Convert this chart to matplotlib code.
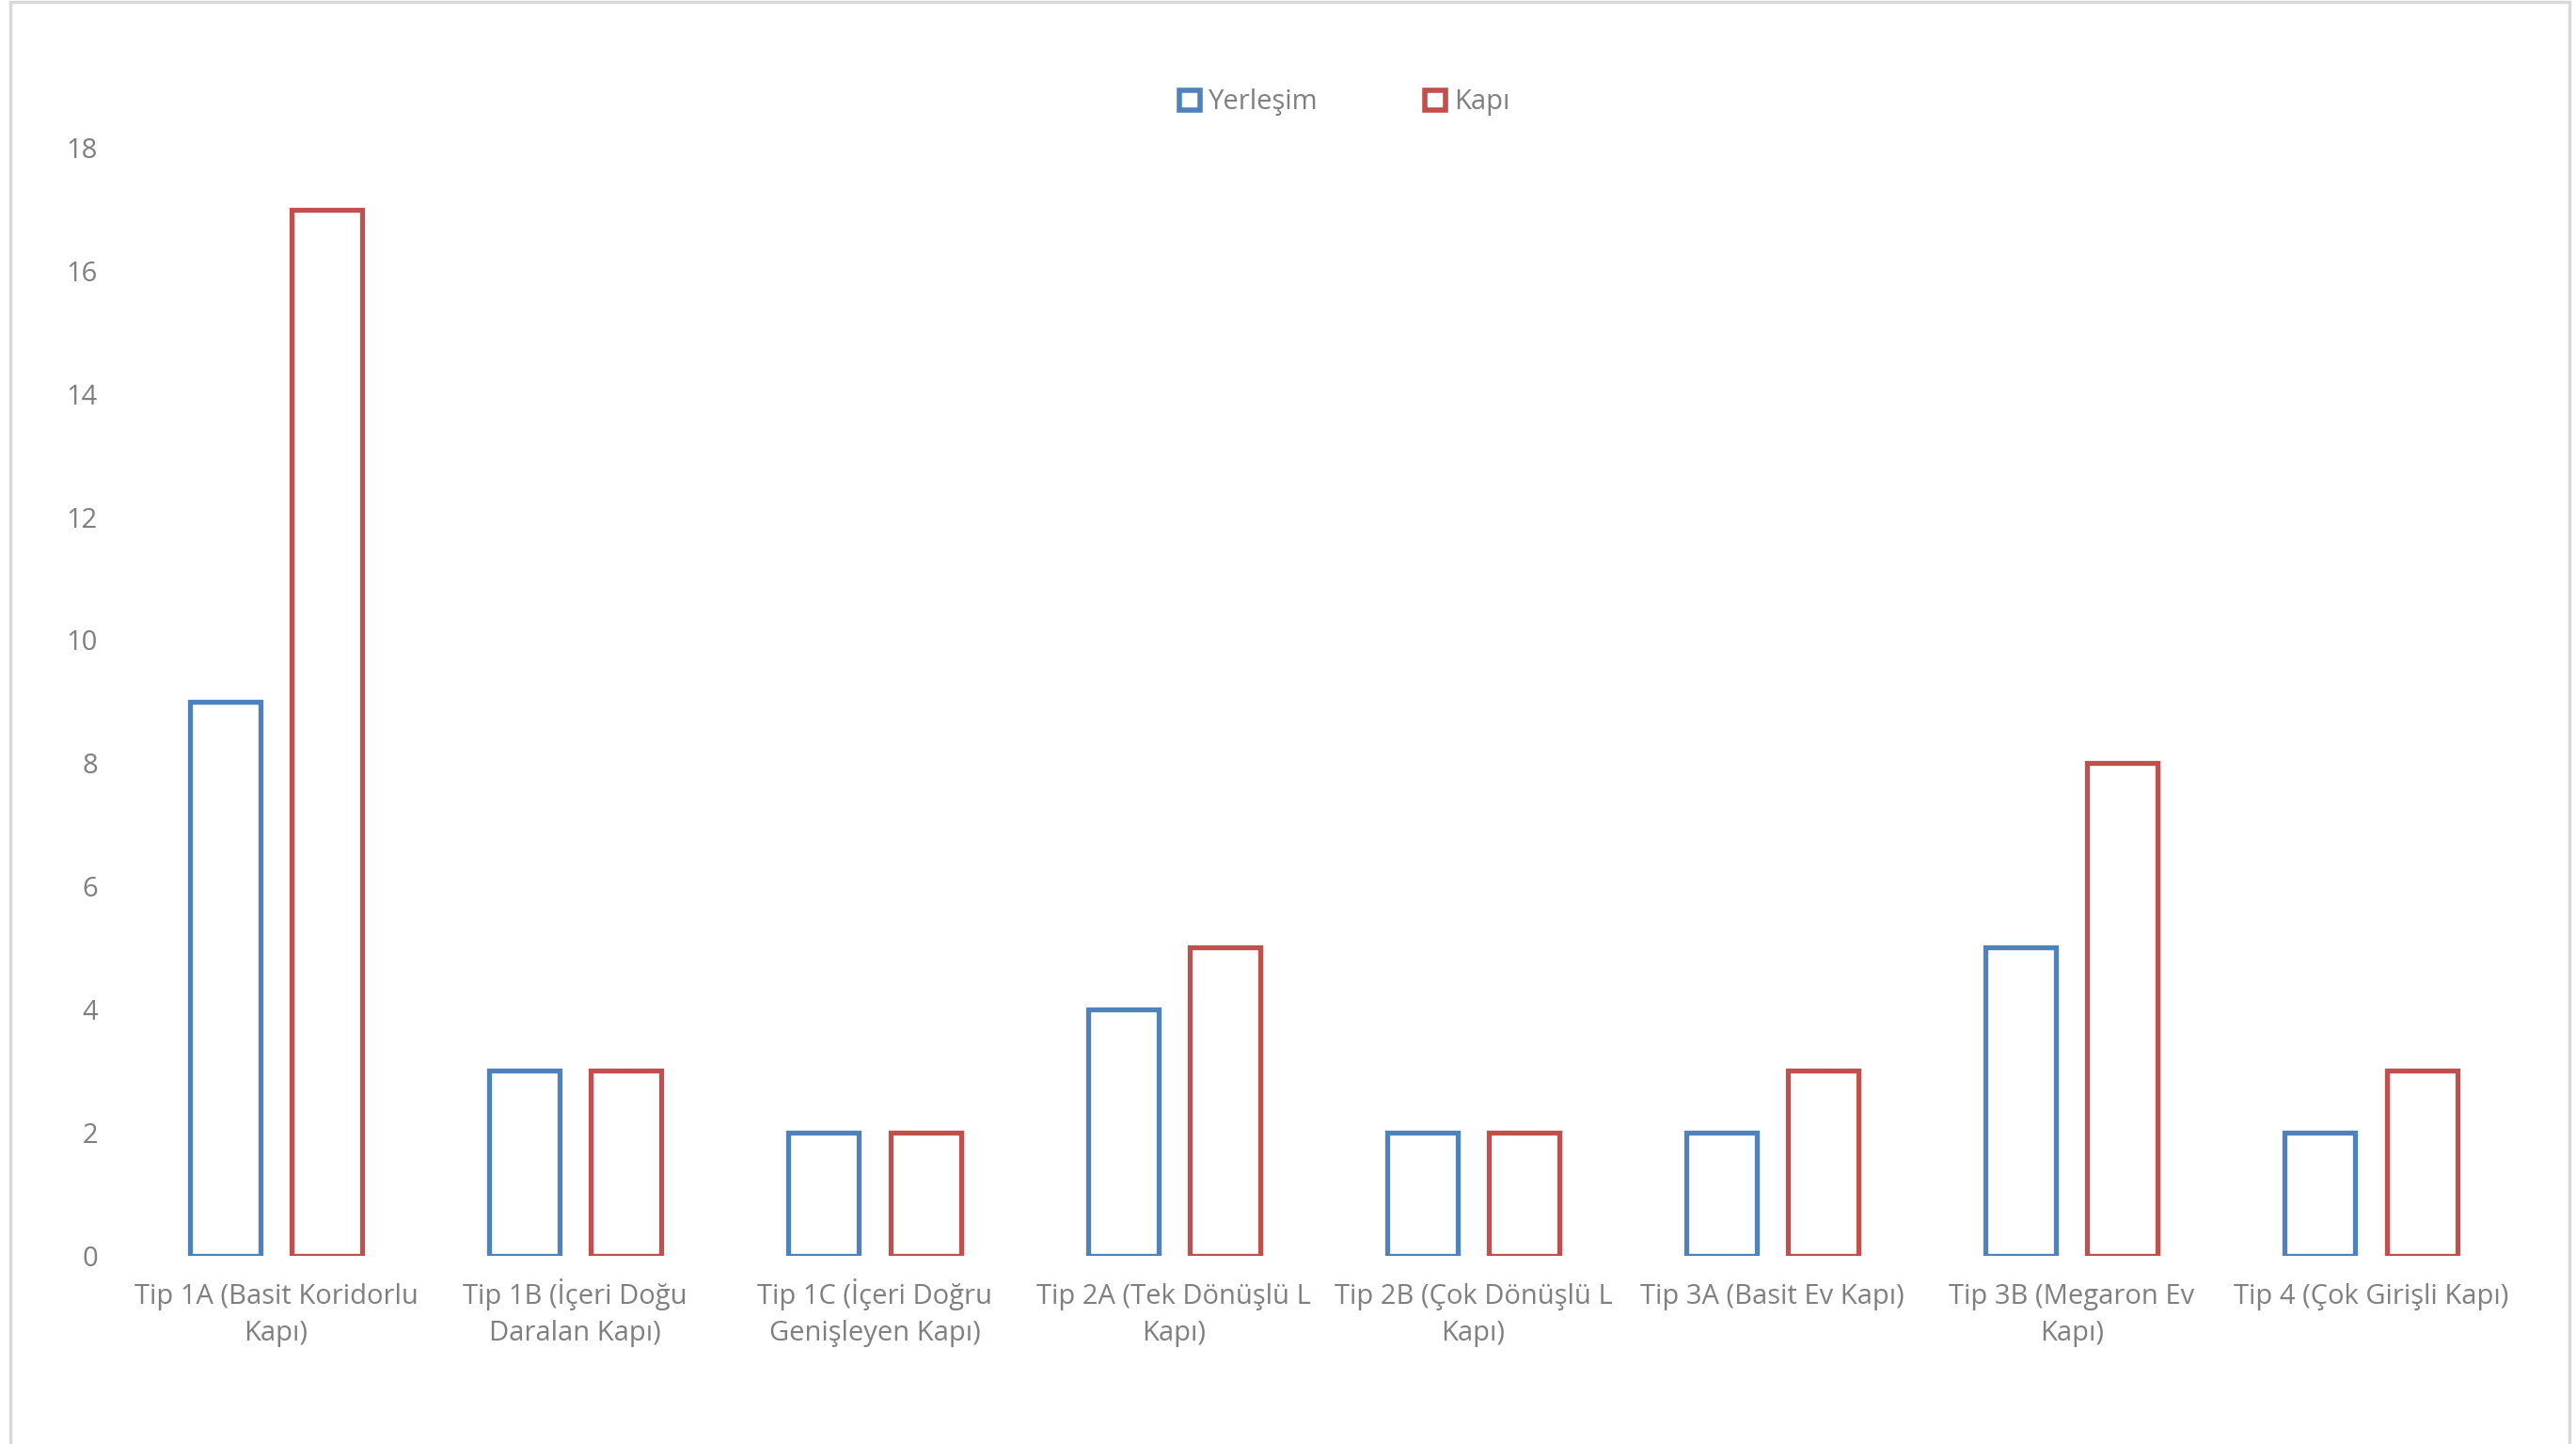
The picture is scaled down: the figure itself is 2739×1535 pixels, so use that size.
import matplotlib.pyplot as plt
from matplotlib.patches import Patch, Rectangle
import numpy as np

# chart data
categories = ["Tip 1A (Basit Koridorlu\nKapı)", "Tip 1B (İçeri Doğu\nDaralan Kapı)",
              "Tip 1C (İçeri Doğru\nGenişleyen Kapı)", "Tip 2A (Tek Dönüşlü L\nKapı)",
              "Tip 2B (Çok Dönüşlü L\nKapı)", "Tip 3A (Basit Ev Kapı)",
              "Tip 3B (Megaron Ev\nKapı)", "Tip 4 (Çok Girişli Kapı)"]
yerlesim = [9, 3, 2, 4, 2, 2, 5, 2]
kapi = [17, 3, 2, 5, 2, 3, 8, 3]
yticks = [0, 2, 4, 6, 8, 10, 12, 14, 16, 18]

blue = "#4F81BD"
red = "#C0504D"
gray = "#7F7F7F"

plt.rcParams['font.family'] = ['Open Sans', 'DejaVu Sans']

fig = plt.figure(figsize=(27.39, 15.35), dpi=100)
ax = fig.add_axes([0.0491, 0.1306, 0.9294, 0.767])

x = np.arange(len(categories))
w = 0.236
off = 0.170
ax.bar(x - off, yerlesim, width=w, fill=False, edgecolor=blue, linewidth=3.8)
ax.bar(x + off, kapi, width=w, fill=False, edgecolor=red, linewidth=3.8)

ax.set_xlim(-0.5, len(categories) - 0.5)
ax.set_ylim(0, 18)
ax.set_yticks(yticks)
ax.set_xticks(x)
ax.set_xticklabels([])
ax.tick_params(axis='both', length=0, labelsize=21, labelcolor=gray)
ax.tick_params(axis='y', pad=22)
for s in ax.spines.values():
    s.set_visible(False)

# category labels drawn line by line on a common baseline
for xi, lab in zip(x, categories):
    for i, line in enumerate(lab.split('\n')):
        ax.annotate(line, xy=(xi, 0), xycoords=('data', 'axes fraction'),
                    xytext=(0, -37 - i * 28), textcoords='offset points',
                    ha='center', va='baseline', fontsize=21, color=gray)

handles = [Patch(facecolor='white', edgecolor=blue, linewidth=4, label='Yerleşim'),
           Patch(facecolor='white', edgecolor=red, linewidth=4, label='Kapı')]
leg = fig.legend(handles=handles, loc='center', bbox_to_anchor=(0.522, 0.929), ncol=2,
                 frameon=False, fontsize=21, handlelength=0.75, handleheight=0.75,
                 handletextpad=0.3, columnspacing=3.9)
for t in leg.get_texts():
    t.set_color(gray)

# light border around the chart area
fig.patches.append(Rectangle((11 / 2739, -0.05), (2732 - 11) / 2739, 1.05 - 2 / 1535,
                             transform=fig.transFigure, fill=False,
                             edgecolor='#D9D9D9', linewidth=2.5))

fig.savefig('out.png', dpi=100)
